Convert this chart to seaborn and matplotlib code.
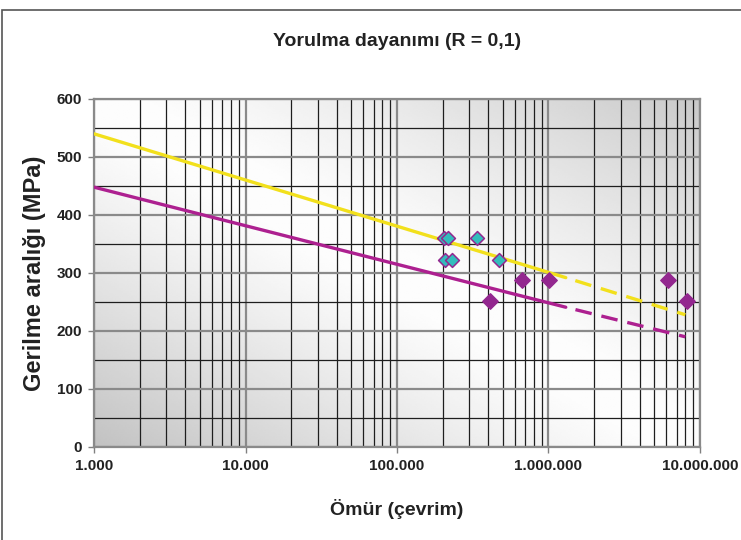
import numpy as np
import pandas as pd
import matplotlib
matplotlib.use("Agg")
import matplotlib.pyplot as plt
import matplotlib.ticker as mticker
from matplotlib.patches import Rectangle
import seaborn as sns

# --- data ---
# fitted S-N lines (solid part, then dashed extrapolation)
yellow_solid_x = [1000, 1300000]
yellow_solid_y = [540, 292]
yellow_dash_x = [1300000, 8000000]
yellow_dash_y = [292, 228]

purple_solid_x = [1000, 1300000]
purple_solid_y = [448, 241]
purple_dash_x = [1300000, 8000000]
purple_dash_y = [241, 190]

# test points
cyan_x = [204000, 217000, 339000, 207000, 230000, 473000]
cyan_y = [360, 360, 360, 322, 322, 322]
purple_pts_x = [409000, 665000, 1007000, 6180000, 8170000]
purple_pts_y = [251, 288, 288, 288, 251]

x_ticks = [1e3, 1e4, 1e5, 1e6, 1e7]
x_tick_labels = ["1.000", "10.000", "100.000", "1.000.000", "10.000.000"]
y_ticks = [0, 100, 200, 300, 400, 500, 600]

title = "Yorulma dayanımı (R = 0,1)"
x_label = "Ömür (çevrim)"
y_label = "Gerilme aralığı (MPa)"

# colours
yellow = "#f2e01c"
magenta = "#ad2090"
dot_purple = "#93278f"
cyan = "#33bcbc"

sns.set_style("white")
plt.rcParams["font.family"] = ["Liberation Sans", "DejaVu Sans"]
plt.rcParams["font.weight"] = "bold"

fig = plt.figure(figsize=(7.41, 5.40), dpi=100)
ax = fig.add_axes([94 / 741, 1 - 447 / 540, 606 / 741, 348 / 540])
ax.set_xscale("log")

# gradient background: dark at bottom-left and top-right, light on the other diagonal
u, v = np.meshgrid(np.linspace(0, 1, 300), np.linspace(1, 0, 200))
t = (u + v) / 2
d = np.abs(t - 0.5) * 2
shade = np.where(t < 0.5, 1.0 - 0.24 * d ** 1.2, 1.0 - 0.21 * d ** 1.2)
shade = np.clip(shade, 0, 0.99)
ax.imshow(shade, cmap="gray", vmin=0, vmax=1, extent=[0, 1, 0, 1],
          transform=ax.transAxes, aspect="auto", zorder=0, interpolation="bilinear")

# lines
dash = (5, (5, 3))
sns.lineplot(x=yellow_solid_x, y=yellow_solid_y, color=yellow, lw=2.4, ax=ax, zorder=3)
sns.lineplot(x=yellow_dash_x, y=yellow_dash_y, color=yellow, lw=2.4, ax=ax, zorder=3,
             linestyle=dash)
sns.lineplot(x=purple_solid_x, y=purple_solid_y, color=magenta, lw=2.4, ax=ax, zorder=3)
sns.lineplot(x=purple_dash_x, y=purple_dash_y, color=magenta, lw=2.4, ax=ax, zorder=3,
             linestyle=dash)

# points
sns.scatterplot(x=cyan_x, y=cyan_y, marker="D", s=50, color=cyan, edgecolor=dot_purple,
                linewidth=1.1, ax=ax, zorder=4)
sns.scatterplot(x=purple_pts_x, y=purple_pts_y, marker="D", s=62, color=dot_purple,
                edgecolor=dot_purple, linewidth=1.0, ax=ax, zorder=4)

ax.set_xlim(1e3, 1e7)
ax.set_ylim(0, 600)

ax.set_xticks(x_ticks)
ax.set_xticklabels(x_tick_labels)
ax.xaxis.set_minor_locator(mticker.LogLocator(base=10, subs=range(2, 10)))
ax.xaxis.set_minor_formatter(mticker.NullFormatter())
ax.set_yticks(y_ticks)
ax.yaxis.set_minor_locator(mticker.MultipleLocator(50))

# grid: grey majors, black minors
ax.set_axisbelow(True)
ax.grid(which="major", color="#8a8a8a", lw=1.6)
ax.grid(which="minor", color="#1e1e1e", lw=0.9)

ax.tick_params(which="major", direction="out", length=4.5, width=1, color="#808080",
               labelsize=11, labelcolor="#222222", pad=4, bottom=True, left=True)
ax.tick_params(which="minor", length=0)
for lab in ax.get_xticklabels() + ax.get_yticklabels():
    lab.set_fontweight("bold")

for side in ["left", "bottom", "top", "right"]:
    ax.spines[side].set_visible(True)
    ax.spines[side].set_color("#8a8a8a")
    ax.spines[side].set_linewidth(1.6)

ax.set_xlabel(x_label, fontsize=14, fontweight="bold", color="#222222", labelpad=19)
ax.set_ylabel(y_label, fontsize=17, fontweight="bold", color="#222222", labelpad=8)
fig.text(0.5 * (94 + 700) / 741, 1 - 41 / 540, title, ha="center", va="center",
         fontsize=14, fontweight="bold", color="#222222")

# outer chart frame
fig.patches.append(Rectangle((2 / 741, -0.1), 1.2, 1 - 10 / 540 + 0.1, transform=fig.transFigure,
                             fill=False, edgecolor="#555555", lw=1.2, clip_on=False))

fig.savefig("out.png", dpi=100)
